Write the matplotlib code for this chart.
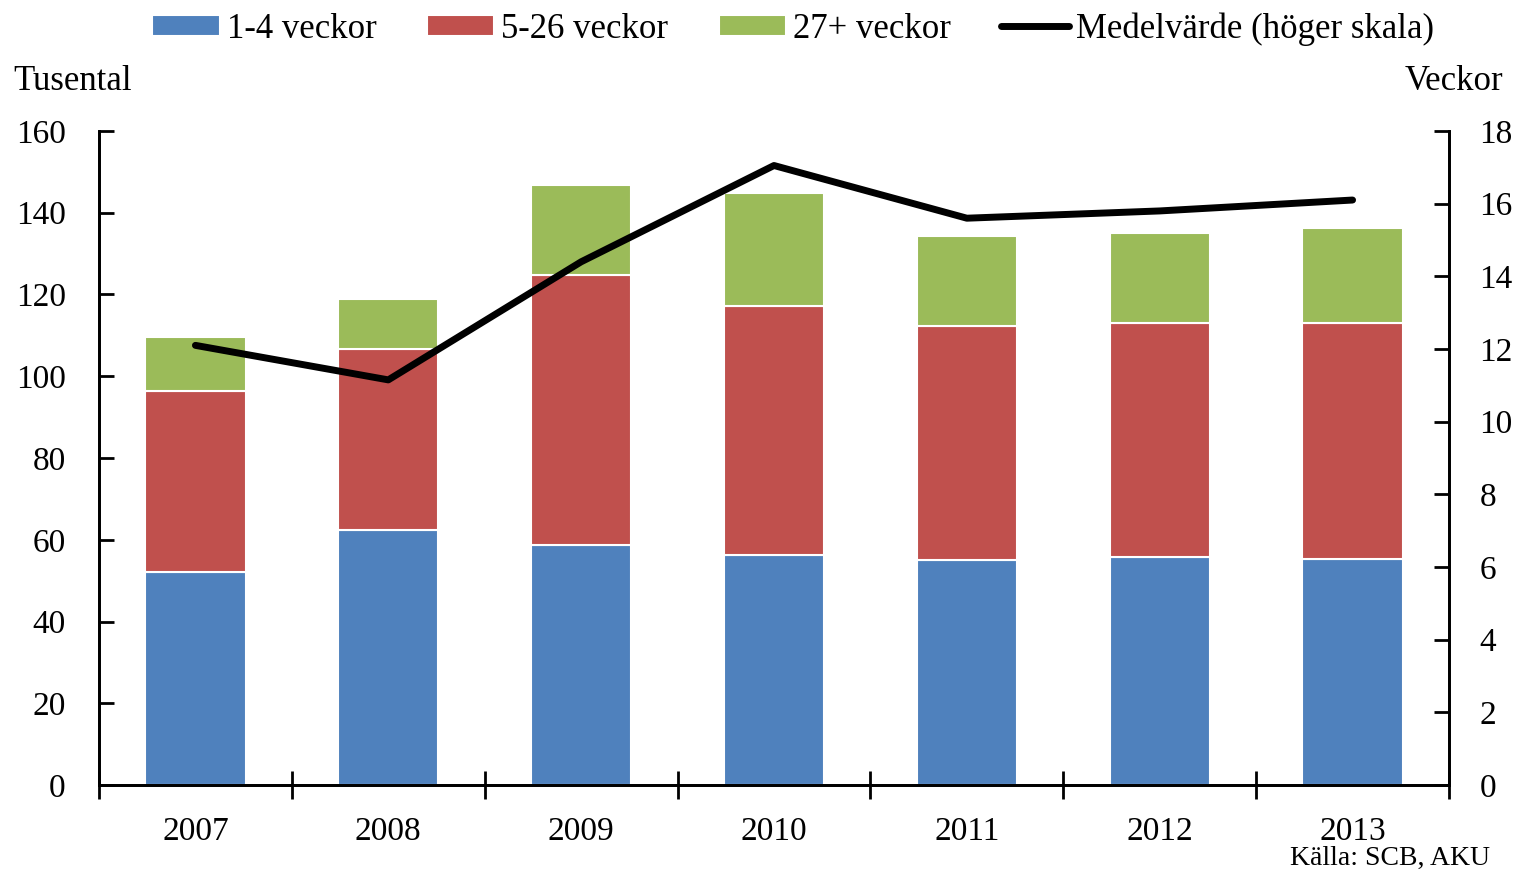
import matplotlib
matplotlib.use("Agg")
import matplotlib.pyplot as plt
import numpy as np

plt.rcParams['font.family'] = ['Liberation Serif', 'DejaVu Serif']

years = ["2007", "2008", "2009", "2010", "2011", "2012", "2013"]
v1_4 = [52.1, 62.4, 58.7, 56.3, 55.0, 55.8, 55.3]
v5_26 = [44.3, 44.3, 66.1, 60.9, 57.3, 57.2, 57.7]
v27 = [13.2, 12.2, 22.0, 27.6, 22.0, 22.0, 23.3]
medel = [12.1, 11.15, 14.4, 17.05, 15.6, 15.8, 16.1]

c_blue = "#4F81BD"
c_red = "#C0504D"
c_green = "#9BBB59"

fig = plt.figure(figsize=(15.2, 8.72), dpi=100)
ax = fig.add_axes([99/1520, 1-785/872, (1449-99)/1520, (785-131)/872])
ax2 = ax.twinx()

x = np.arange(len(years))
w = 0.52
b1 = np.array(v1_4)
b2 = b1 + np.array(v5_26)
ax.bar(x, v1_4, w, color=c_blue, edgecolor="white", linewidth=1.5, label="1-4 veckor", zorder=2)
ax.bar(x, v5_26, w, bottom=b1, color=c_red, edgecolor="white", linewidth=1.5, label="5-26 veckor", zorder=2)
ax.bar(x, v27, w, bottom=b2, color=c_green, edgecolor="white", linewidth=1.5, label="27+ veckor", zorder=2)

ax2.plot(x, medel, color="black", linewidth=5, solid_capstyle="round", label="Medelvärde (höger skala)", zorder=3)

ax.set_xlim(-0.5, len(years)-0.5)
ax.set_ylim(0, 160)
ax2.set_ylim(0, 18)
ax.set_yticks(np.arange(0, 161, 20))
ax2.set_yticks(np.arange(0, 19, 2))

fs = 24
ax.set_xticks(x)
ax.set_xticklabels(years, fontsize=fs)
ax.set_xticks(np.arange(-0.5, len(years), 1), minor=True)
ax.tick_params(axis='x', which='major', length=0, pad=23)
ax.tick_params(axis='x', which='minor', direction='inout', length=20, width=2)

ax.tick_params(axis='y', direction='in', length=11, width=2, labelsize=fs, pad=24)
ax2.tick_params(axis='y', direction='in', length=11, width=2, labelsize=fs, pad=22)

for a in (ax, ax2):
    a.spines['top'].set_visible(False)
    for s in ('left', 'right', 'bottom'):
        a.spines[s].set_linewidth(2)

fig.text(13/1520, 1-81/872, "Tusental", fontsize=25, va='center', ha='left')
fig.text(1503/1520, 1-82/872, "Veckor", fontsize=25, va='center', ha='right')
fig.text(1490/1520, 1-858/872, "Källa: SCB, AKU", fontsize=20, va='center', ha='right')

h1, l1 = ax.get_legend_handles_labels()
h2, l2 = ax2.get_legend_handles_labels()
fig.legend(h1 + h2, l1 + l2, loc='center', bbox_to_anchor=(793/1520, 1-29/872), ncol=4,
           frameon=False, fontsize=25, handlelength=1.95, handletextpad=0.2, columnspacing=1.45,
           handleheight=0.55)

fig.savefig("out.png", dpi=100)
